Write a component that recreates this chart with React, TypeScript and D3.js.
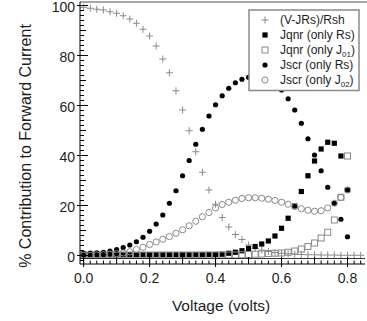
import * as d3 from 'd3';

const voltage = [
  0, 0.02, 0.04, 0.06, 0.08, 0.1, 0.12, 0.14, 0.16, 0.18, 0.2, 0.22, 0.24, 0.26, 0.28, 0.3,
  0.32, 0.34, 0.36, 0.38, 0.4, 0.42, 0.44, 0.46, 0.48, 0.5, 0.52, 0.54, 0.56, 0.58, 0.6,
  0.62, 0.64, 0.66, 0.68, 0.7, 0.72, 0.74, 0.76, 0.78, 0.8,
];
const voltageRsh = [...voltage, 0.82, 0.84];

// (V-JRs)/Rsh
const shuntPct = [
  99.3, 98.9, 98.5, 98.2, 97.5, 96.9, 95.9, 94.6, 92.9, 90.5, 87.8, 83.8, 78.6, 73.1, 65.9,
  58.2, 49.9, 41.5, 33.3, 26.2, 20.5, 15.2, 11.4, 8.4, 6.4, 4.2, 2.9, 2.2, 1.6, 1.2, 0.9,
  0.7, 0.5, 0.4, 0.3, 0.3, 0.2, 0.2, 0.2, 0.1, 0.1, 0.1, 0.1,
];
// Jqnr (only Rs)
const qnrRsPct = [
  0.3, 0.3, 0.3, 0.3, 0.3, 0.3, 0.3, 0.3, 0.3, 0.3, 0.3, 0.3, 0.3, 0.3, 0.3, 0.3,
  0.3, 0.3, 0.3, 0.4, 0.4, 0.5, 0.9, 1.3, 1.9, 2.8, 3.6, 4.6, 5.8, 7.8, 10.9,
  14.9, 19.8, 25.6, 31.9, 37.8, 42.6, 45.3, 44.9, 39.8, 26.2,
];
// Jqnr (only J01)
const qnrJ01Pct = [
  0.2, 0.2, 0.2, 0.2, 0.2, 0.2, 0.2, 0.2, 0.2, 0.2, 0.2, 0.2, 0.2, 0.2, 0.2, 0.2,
  0.2, 0.2, 0.2, 0.2, 0.2, 0.2, 0.2, 0.2, 0.3, 0.4, 0.5, 0.6, 0.8, 0.9, 1.0,
  1.3, 1.8, 2.6, 3.6, 5.0, 7.0, 9.3, 14.2, 23.3, 39.8,
];
// Jscr (only Rs)
const scrRsPct = [
  0.9, 1.0, 1.1, 1.3, 1.8, 2.4, 3.2, 4.2, 5.5, 7.3, 9.7, 12.6, 16.2, 20.9, 25.9, 31.9,
  38.0, 44.5, 50.5, 55.8, 60.3, 63.9, 66.9, 69.1, 70.5, 71.3, 72.3, 72.0, 70.8, 68.8, 66.2,
  62.7, 58.2, 52.9, 46.7, 40.2, 33.9, 27.3, 20.9, 14.5, 7.5,
];
// Jscr (only J02)
const scrJ02Pct = [
  0.1, 0.1, 0.2, 0.3, 0.5, 0.7, 1.0, 1.5, 2.4, 3.3, 4.4, 5.4, 6.5, 7.6, 8.9, 10.3,
  11.9, 13.7, 15.5, 17.2, 19.0, 20.4, 21.3, 22.1, 22.8, 23.1, 23.1, 22.9, 22.5, 22.0, 21.3,
  20.5, 19.6, 18.7, 18.1, 17.7, 17.9, 19.0, 20.9, 23.2, 26.2,
];

const xTicks = [0, 0.2, 0.4, 0.6, 0.8];
const yTicks = [0, 20, 40, 60, 80, 100];

const FONT = '"Liberation Sans", Arial, sans-serif';
const GREY = '#8a8a8a';
const INK = '#1e1e1e';

const plusPath = (x: number, y: number, s = 3.5) =>
  `M${x - s},${y}H${x + s}M${x},${y - s}V${y + s}`;

export default function App() {
  const width = 367;
  const height = 321;
  const left = 80, right = 365, top = 2, bottom = 264;

  const x = d3.scaleLinear().domain([-0.011, 0.853]).range([left, right]);
  const y = d3.scaleLinear().domain([-3.4, 101.4]).range([bottom, top]);

  const xMinor = d3.range(0, 86, 2).map(d => d / 100);
  const yMinor = d3.range(-2, 102, 2);

  const legendItems = [
    { kind: 'plus', label: '(V-JRs)/Rsh' },
    { kind: 'fsq', label: 'Jqnr (only Rs)' },
    { kind: 'osq', label: 'Jqnr (only J', sub: '01', tail: ')' },
    { kind: 'fci', label: 'Jscr (only Rs)' },
    { kind: 'oci', label: 'Jscr (only J', sub: '02', tail: ')' },
  ];

  const marker = (kind: string, cx: number, cy: number, key: string | number) => {
    switch (kind) {
      case 'plus':
        return <path key={key} d={plusPath(cx, cy)} stroke={GREY} strokeWidth={1} fill="none" />;
      case 'fsq':
        return <rect key={key} x={cx - 2.6} y={cy - 2.6} width={5.2} height={5.2} fill="#000" />;
      case 'osq':
        return <rect key={key} x={cx - 3} y={cy - 3} width={6} height={6} fill="none" stroke={GREY} strokeWidth={1} />;
      case 'fci':
        return <circle key={key} cx={cx} cy={cy} r={2.6} fill="#000" />;
      default:
        return <circle key={key} cx={cx} cy={cy} r={3.1} fill="none" stroke={GREY} strokeWidth={1} />;
    }
  };

  return (
    <svg width={width} height={height} style={{ position: 'absolute', left: 0, top: 0 }}>
      <rect width={width} height={height} fill="#fff" />

      {/* data */}
      <g>
        {voltageRsh.map((v, i) => marker('plus', x(v), y(shuntPct[i]), 'p' + i))}
        {voltage.map((v, i) => marker('fsq', x(v), y(qnrRsPct[i]), 'a' + i))}
        {voltage.map((v, i) => marker('osq', x(v), y(qnrJ01Pct[i]), 'b' + i))}
        {voltage.map((v, i) => marker('fci', x(v), y(scrRsPct[i]), 'c' + i))}
        {voltage.map((v, i) => marker('oci', x(v), y(scrJ02Pct[i]), 'd' + i))}
      </g>

      {/* frame */}
      <line x1={left} x2={right + 2} y1={top} y2={top} stroke={GREY} strokeWidth={1.5} />
      <line x1={left} x2={left} y1={top} y2={bottom} stroke="#000" strokeWidth={1} />
      <line x1={left} x2={right} y1={bottom} y2={bottom} stroke="#000" strokeWidth={1} />
      <line x1={left} x2={right} y1={bottom - 5.5} y2={bottom - 5.5} stroke="#000" strokeWidth={0.8} />

      {/* y ticks */}
      {yMinor.map(t => (
        <line key={'ym' + t} x1={left} x2={left + (t % 10 === 0 ? 6 : 4)} y1={y(t)} y2={y(t)} stroke="#000" strokeWidth={1} />
      ))}
      {yTicks.map(t => (
        <g key={'yt' + t}>
          <line x1={left - 3} x2={left + 8} y1={y(t)} y2={y(t)} stroke="#000" strokeWidth={1} />
          <text x={left - 5} y={y(t) + 1.2} dy="0.36em" textAnchor="end" fontFamily={FONT} fontSize={14} fill={INK}>{t}</text>
        </g>
      ))}

      {/* x ticks */}
      {xMinor.map(t => (
        <line key={'xm' + t} x1={x(t)} x2={x(t)} y1={bottom} y2={bottom - (Math.round(t * 100) % 10 === 0 ? 7 : 3.5)} stroke="#000" strokeWidth={1} />
      ))}
      {xTicks.map(t => (
        <g key={'xt' + t}>
          <line x1={x(t)} x2={x(t)} y1={bottom + 3} y2={bottom - 7} stroke="#000" strokeWidth={1} />
          <text x={x(t)} y={bottom + 19} textAnchor="middle" fontFamily={FONT} fontSize={14} fill={INK}>{t.toFixed(1)}</text>
        </g>
      ))}

      {/* axis titles */}
      <text x={221} y={311} textAnchor="middle" fontFamily={FONT} fontSize={15.5} fill={INK}>Voltage (volts)</text>
      <text transform="translate(31,146) rotate(-90)" textAnchor="middle" fontFamily={FONT} fontSize={16} fill={INK}>
        % Contribution to Forward Current
      </text>

      {/* legend */}
      <g transform="translate(249,10)">
        <rect x={0} y={0} width={110} height={80.5} fill="#fff" stroke={GREY} strokeWidth={1.5} />
        {legendItems.map((it, i) => {
          const cy = 10 + i * 15;
          return (
            <g key={it.label + i}>
              {marker(it.kind, 16, cy, 'l' + i)}
              <text x={31} y={cy} dy="0.36em" fontFamily={FONT} fontSize={12} fill={INK}>
                {it.label}
                {it.sub && <tspan fontSize={8} dy={3}>{it.sub}</tspan>}
                {it.tail && <tspan dy={-3}>{it.tail}</tspan>}
              </text>
            </g>
          );
        })}
      </g>
    </svg>
  );
}
